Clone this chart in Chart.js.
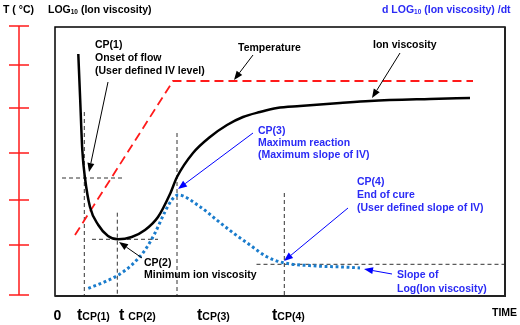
<!DOCTYPE html>
<html><head><meta charset="utf-8">
<script src="https://cdn.jsdelivr.net/npm/chart.js@4/dist/chart.umd.min.js"></script>
<style>html,body{margin:0;padding:0;background:#fff}#wrap{width:520px;height:325px}</style>
</head><body><div id="wrap"><canvas id="c" width="520" height="325"></canvas></div>
<script>
// ---- data (time units / relative log ion viscosity units) ----
const ionTime = [4.66,5.04,5.46,6.0,7.0,8.66,10.6,12.6,15.34,18.0,20.6,23.0,24.4,27.6,31.0,34.4,37.6,41.0,44.4,49.0,57.0,63.0,75.0,83.0];
const ionVisc = [48.4,39.2,29.2,23.6,17.8,14.2,12.0,11.34,11.8,13.2,15.8,20.4,23.8,28.6,31.8,34.2,35.8,36.8,37.6,38.0,38.6,39.0,39.4,39.6];
const tempTime = [4.0,23.6,83.6];
const tempVal = [12.2,43.0,43.0];
const slopeTime = [6.66,10.0,12.66,15.34,18.0,20.0,22.0,23.34,24.6,29.0,32.34,35.66,39.0,42.34,45.66,52.34,59.0,61.0];
const slopeVal = [1.54,2.86,4.2,6.2,9.2,12.6,16.86,19.2,20.2,17.86,15.2,12.6,10.2,7.86,6.66,6.0,5.74,5.6];
const tcpTime = [5.86,12.46,24.4,45.86];
const tcpTop = [36.8,16.66,32.6,20.6];
const tcpNames = ["CP(1)","CP(2)","CP(3)","CP(4)"];
const guideLevel = [23.6,11.34,6.34];
const guideFrom = [1.4,7.4,40.3];
const guideTo = [13.4,20.6,90];
const tempTicks = [0.2,10.2,19.2,28.6,37.6,46.2,54];

const BLUE_TXT = '#2b2bf5', BLUE_DOT = '#1a7ccc', RED = '#ff1a1a';
const FONT = 'bold 10.5px "Liberation Sans", Arial, sans-serif';

const pts = (xs, ys) => xs.map((x, i) => ({x, y: ys[i]}));
const guideSets = [];
tcpTime.forEach((t, i) => guideSets.push({data: pts([t, t], [tcpTop[i], 0]), borderColor: '#333', borderWidth: 1, borderDash: [4,3], pointRadius: 0, tension: 0}));
guideLevel.forEach((g, i) => guideSets.push({data: pts([guideFrom[i], guideTo[i]], [g, g]), borderColor: '#333', borderWidth: 1, borderDash: [4,3], pointRadius: 0, tension: 0}));

// annotations in data units
const notes = [
  {x: 8.0, y: 50.2, lines: ["CP(1)","Onset of flow","(User defined IV level)"], color: '#000', lh: 13},
  {x: 36.6, y: 49.6, lines: ["Temperature"], color: '#000', lh: 13},
  {x: 63.6, y: 50.2, lines: ["Ion viscosity"], color: '#000', lh: 13},
  {x: 40.6, y: 33.0, lines: ["CP(3)","Maximum reaction","(Maximum slope of IV)"], color: BLUE_TXT, lh: 12},
  {x: 60.4, y: 22.8, lines: ["CP(4)","End of cure","(User defined slope of IV)"], color: BLUE_TXT, lh: 13},
  {x: 17.8, y: 6.6, lines: ["CP(2)","Minimum ion viscosity"], color: '#000', lh: 12},
  {x: 68.4, y: 4.2, lines: ["Slope of","Log(Ion viscosity)"], color: BLUE_TXT, lh: 14}
];
const arrows = [
  {from: [10.6,42.8], to: [6.8,24.8], color: '#000'},
  {from: [39.6,48.2], to: [35.8,43.2], color: '#000'},
  {from: [69.0,48.6], to: [63.4,39.6], color: '#000'},
  {from: [39.6,32.6], to: [24.6,21.4], color: '#0000ff'},
  {from: [58.6,17.6], to: [45.8,7.0], color: '#0000ff'},
  {from: [67.4,4.4], to: [61.8,5.4], color: '#0000ff'},
  {from: [17.4,7.6], to: [12.8,10.8], color: '#000'}
];
const tickLabelTime = [4.4,12.8,28.4,43.4];
const tickLabelGap = [0,1,0,0];

const deco = {
  id: 'deco',
  afterDatasetsDraw(chart) {
    const {ctx, chartArea: a, scales: {x, y}} = chart;
    ctx.save();
    // frame
    ctx.strokeStyle = '#000'; ctx.lineWidth = 1.5;
    ctx.strokeRect(a.left, a.top, a.right - a.left, a.bottom - a.top);
    ctx.strokeStyle = '#222'; ctx.lineWidth = 2;
    ctx.beginPath(); ctx.moveTo(a.left, a.bottom); ctx.lineTo(a.right + 1, a.bottom); ctx.stroke();
    ctx.beginPath(); ctx.moveTo(a.right, a.top); ctx.lineTo(a.right, a.bottom); ctx.stroke();
    // red temperature axis
    ctx.strokeStyle = RED; ctx.lineWidth = 1.5;
    const ax = 19;
    const tp = tempTicks.map(v => y.getPixelForValue(v));
    ctx.beginPath(); ctx.moveTo(ax, Math.min(...tp)); ctx.lineTo(ax, Math.max(...tp)); ctx.stroke();
    tp.forEach(p => { ctx.beginPath(); ctx.moveTo(9, p); ctx.lineTo(29, p); ctx.stroke(); });
    // arrows
    arrows.forEach(ar => {
      const x0 = x.getPixelForValue(ar.from[0]), y0 = y.getPixelForValue(ar.from[1]);
      const x1 = x.getPixelForValue(ar.to[0]), y1 = y.getPixelForValue(ar.to[1]);
      const ang = Math.atan2(y1 - y0, x1 - x0), L = 9, W = 3.5;
      const bx = x1 - L * Math.cos(ang), by = y1 - L * Math.sin(ang);
      ctx.strokeStyle = ar.color; ctx.fillStyle = ar.color; ctx.lineWidth = 1;
      ctx.beginPath(); ctx.moveTo(x0, y0); ctx.lineTo(bx, by); ctx.stroke();
      ctx.beginPath(); ctx.moveTo(x1, y1);
      ctx.lineTo(bx + W * Math.sin(ang), by - W * Math.cos(ang));
      ctx.lineTo(bx - W * Math.sin(ang), by + W * Math.cos(ang));
      ctx.closePath(); ctx.fill();
    });
    // notes
    ctx.font = FONT; ctx.textBaseline = 'middle'; ctx.textAlign = 'left';
    notes.forEach(n => {
      ctx.fillStyle = n.color;
      const px = x.getPixelForValue(n.x), py = y.getPixelForValue(n.y);
      n.lines.forEach((s, i) => ctx.fillText(s, px, py + i * n.lh));
    });
    // headers
    const sub = (parts, px, py, color) => {
      ctx.fillStyle = color; let cx = px;
      parts.forEach(([s, small]) => {
        ctx.font = small ? 'bold 6.5px "Liberation Sans", Arial, sans-serif' : FONT;
        ctx.fillText(s, cx, py + (small ? 2.5 : 0));
        cx += ctx.measureText(s).width;
      });
    };
    sub([["T ( °C)", 0]], 3, 10, '#000');
    sub([["LOG", 0], ["10", 1], [" (Ion viscosity)", 0]], 48, 10, '#000');
    sub([["d LOG", 0], ["10", 1], [" (Ion viscosity) /dt", 0]], 382, 10, BLUE_TXT);
    // time labels
    ctx.fillStyle = '#000'; ctx.textBaseline = 'alphabetic';
    ctx.font = 'bold 14px "Liberation Sans", Arial, sans-serif';
    ctx.textAlign = 'center';
    ctx.fillText('0', x.getPixelForValue(0.5), 320);
    ctx.textAlign = 'left';
    tickLabelTime.forEach((t, i) => {
      let cx = x.getPixelForValue(t);
      ctx.font = 'bold 16px "Liberation Sans", Arial, sans-serif';
      ctx.fillText('t', cx, 320);
      cx += ctx.measureText('t').width + (tickLabelGap[i] ? 4 : 0);
      ctx.font = 'bold 10.5px "Liberation Sans", Arial, sans-serif';
      ctx.fillText(tcpNames[i], cx, 320);
    });
    ctx.font = FONT;
    ctx.fillText('TIME', 492, 316);
    ctx.restore();
  }
};

new Chart(document.getElementById('c'), {
  type: 'line',
  data: {
    datasets: [
      {label: 'Ion viscosity', data: pts(ionTime, ionVisc), borderColor: '#000', borderWidth: 2.5, pointRadius: 0, cubicInterpolationMode: 'monotone'},
      {label: 'Temperature', data: pts(tempTime, tempVal), borderColor: RED, borderWidth: 1.8, borderDash: [9,5], pointRadius: 0, tension: 0},
      {label: 'Slope', data: pts(slopeTime, slopeVal), borderColor: BLUE_DOT, borderWidth: 3, borderDash: [2.8,2.7], pointRadius: 0, cubicInterpolationMode: 'monotone'},
      ...guideSets
    ]
  },
  options: {
    responsive: false, animation: false, devicePixelRatio: 1,
    layout: {padding: {left: 55, top: 27, right: 15, bottom: 29}},
    plugins: {legend: {display: false}, tooltip: {enabled: false}},
    scales: {
      x: {type: 'linear', min: 0, max: 90, display: false},
      y: {type: 'linear', min: 0, max: 53.8, display: false}
    }
  },
  plugins: [deco]
});
</script></body></html>
